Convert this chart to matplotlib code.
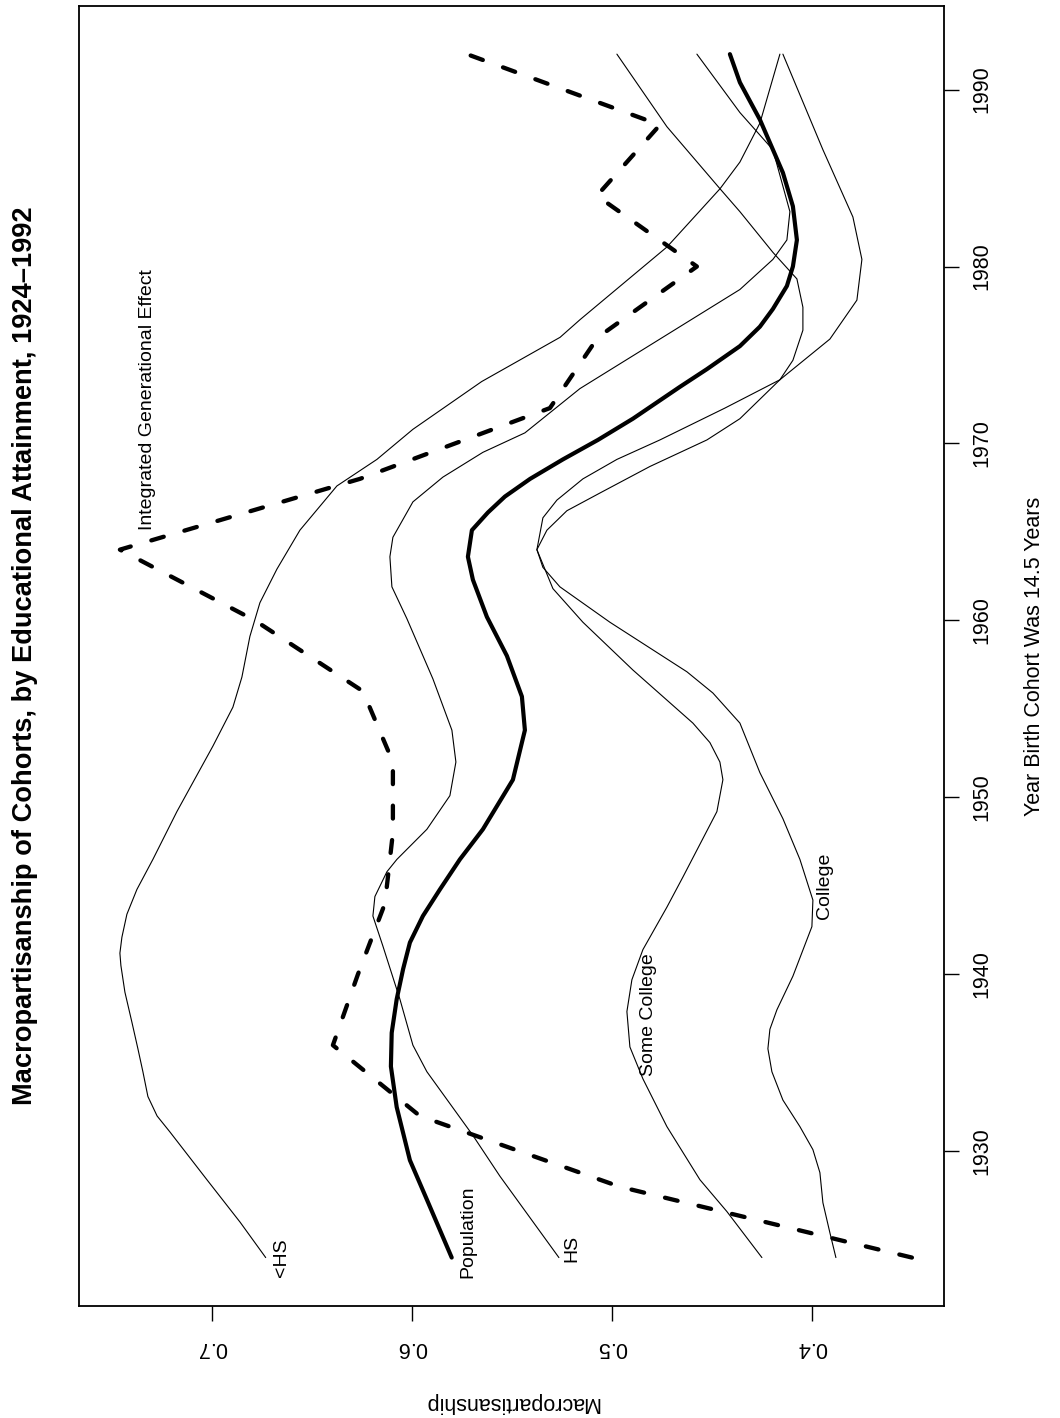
import matplotlib
matplotlib.use("Agg")
import matplotlib.pyplot as plt

plt.rcParams['font.family'] = ['Liberation Sans', 'DejaVu Sans']

# ---- data (year, macropartisanship) ----
lths_years = [1924.0, 1926.0, 1928.4, 1931.1, 1932.0, 1933.1, 1934.5, 1935.8, 1937.3, 1939.0,
              1940.5, 1941.2, 1942.1, 1943.4, 1944.8, 1946.5, 1949.2, 1952.9, 1955.1, 1956.8,
              1959.1, 1961.0, 1962.9, 1965.1, 1967.6, 1969.1, 1970.8, 1973.5, 1976.0, 1977.0,
              1981.1, 1984.4, 1985.9, 1988.1, 1992.0]
lths_vals = [0.6730, 0.6858, 0.7024, 0.7209, 0.7273, 0.7319, 0.7344, 0.7369, 0.7399, 0.7434,
             0.7454, 0.7459, 0.7449, 0.7424, 0.7374, 0.7294, 0.7174, 0.6994, 0.6894, 0.6849,
             0.6809, 0.6759, 0.6674, 0.6559, 0.6374, 0.6174, 0.5994, 0.5650, 0.5258, 0.5158,
             0.4724, 0.4458, 0.4359, 0.4259, 0.4159]

pop_years = [1924.0, 1927.3, 1929.5, 1932.5, 1934.8, 1936.7, 1938.6, 1940.3, 1941.8, 1943.3,
             1944.8, 1946.5, 1948.2, 1951.0, 1953.8, 1955.7, 1958.0, 1960.2, 1962.3, 1963.6,
             1965.1, 1966.1, 1967.0, 1968.0, 1969.1, 1970.2, 1971.4, 1973.2, 1974.2, 1975.5,
             1976.6, 1977.6, 1978.9, 1980.0, 1981.5, 1983.4, 1985.3, 1988.3, 1990.4, 1992.0]
pop_vals = [0.5800, 0.5925, 0.6009, 0.6075, 0.6104, 0.6100, 0.6075, 0.6043, 0.6009, 0.5944,
            0.5859, 0.5759, 0.5644, 0.5494, 0.5434, 0.5449, 0.5524, 0.5624, 0.5694, 0.5719,
            0.5699, 0.5619, 0.5534, 0.5408, 0.5244, 0.5069, 0.4894, 0.4659, 0.4524, 0.4359,
            0.4259, 0.4194, 0.4124, 0.4094, 0.4074, 0.4094, 0.4144, 0.4259, 0.4359, 0.4409]

hs_years = [1924.0, 1928.6, 1930.9, 1934.5, 1936.0, 1938.6, 1941.6, 1943.3, 1944.4, 1945.8,
            1946.5, 1948.2, 1950.1, 1952.0, 1953.8, 1956.7, 1960.1, 1961.9, 1963.6, 1964.7,
            1966.7, 1968.1, 1969.5, 1970.6, 1973.1, 1978.7, 1980.4, 1981.5, 1983.1, 1986.6,
            1988.7, 1992.0]
hs_vals = [0.5264, 0.5559, 0.5694, 0.5924, 0.5994, 0.6059, 0.6144, 0.6194, 0.6184, 0.6124,
           0.6074, 0.5924, 0.5809, 0.5779, 0.5799, 0.5894, 0.6024, 0.6099, 0.6109, 0.6094,
           0.5994, 0.5844, 0.5644, 0.5434, 0.5159, 0.4359, 0.4194, 0.4124, 0.4109, 0.4194,
           0.4359, 0.4574]

somecol_years = [1924.0, 1926.6, 1928.4, 1931.4, 1934.1, 1935.9, 1937.9, 1939.7, 1941.4, 1943.8,
                 1945.5, 1949.2, 1951.0, 1952.0, 1953.1, 1954.2, 1957.2, 1959.9, 1961.8, 1964.0,
                 1965.8, 1966.8, 1968.0, 1969.1, 1970.2, 1972.0, 1973.6, 1975.9, 1978.1, 1980.4,
                 1982.8, 1986.6, 1992.0]
somecol_vals = [0.4249, 0.4424, 0.4559, 0.4724, 0.4844, 0.4909, 0.4924, 0.4899, 0.4844, 0.4724,
                0.4644, 0.4474, 0.4444, 0.4459, 0.4509, 0.4594, 0.4894, 0.5144, 0.5294, 0.5374,
                0.5344, 0.5274, 0.5144, 0.4974, 0.4759, 0.4434, 0.4159, 0.3909, 0.3774, 0.3749,
                0.3794, 0.3944, 0.4144]

col_years = [1924.0, 1925.4, 1927.1, 1928.8, 1930.1, 1931.4, 1932.9, 1934.5, 1935.8, 1936.9,
             1938.0, 1939.9, 1942.7, 1944.2, 1946.5, 1948.8, 1951.4, 1954.2, 1955.9, 1957.1,
             1959.9, 1961.9, 1963.0, 1964.0, 1965.1, 1966.2, 1967.2, 1968.7, 1970.2, 1971.4,
             1973.6, 1974.7, 1976.4, 1977.7, 1979.3, 1980.8, 1983.1, 1984.4, 1987.9, 1992.0]
col_vals = [0.3879, 0.3909, 0.3944, 0.3959, 0.3994, 0.4059, 0.4144, 0.4199, 0.4219, 0.4209,
            0.4174, 0.4094, 0.3999, 0.3994, 0.4059, 0.4144, 0.4259, 0.4359, 0.4494, 0.4624,
            0.5009, 0.5259, 0.5344, 0.5374, 0.5324, 0.5224, 0.5059, 0.4809, 0.4524, 0.4359,
            0.4159, 0.4094, 0.4044, 0.4044, 0.4074, 0.4194, 0.4359, 0.4459, 0.4724, 0.4974]

ige_years = [1924, 1928, 1932, 1936, 1940, 1944, 1948, 1952, 1956,
             1960, 1964, 1968, 1972, 1976, 1980, 1984, 1988, 1992]
ige_vals = [0.3499, 0.4959, 0.5959, 0.6394, 0.6269, 0.6134, 0.6094, 0.6094, 0.6244,
            0.6784, 0.7459, 0.6259, 0.5309, 0.5069, 0.4574, 0.5074, 0.4759, 0.5724]

series_labels = ['<HS', 'Population', 'HS', 'Some College', 'College',
                 'Integrated Generational Effect']
label_years = [1923.98, 1925.48, 1924.52, 1937.74, 1945.0, 1972.5]
label_vals = [0.6649, 0.5717, 0.5200, 0.4817, 0.3934, 0.7319]

year_ticks = [1930, 1940, 1950, 1960, 1970, 1980, 1990]
val_ticks = [0.4, 0.5, 0.6, 0.7]
val_ticklabels = ['0.4', '0.5', '0.6', '0.7']

W, H = 1060, 1418
fig = plt.figure(figsize=(W / 100, H / 100), dpi=100)
ax = fig.add_axes([79 / W, 1 - 1305.7 / H, (944 - 79) / W, (1305.7 - 6) / H])

thin = dict(color='black', lw=0.8, solid_capstyle='round', solid_joinstyle='round')
ax.plot(lths_vals, lths_years, **thin)
ax.plot(hs_vals, hs_years, **thin)
ax.plot(somecol_vals, somecol_years, **thin)
ax.plot(col_vals, col_years, **thin)
ax.plot(pop_vals, pop_years, color='black', lw=3, solid_capstyle='round', solid_joinstyle='round')
ax.plot(ige_vals, ige_years, color='black', lw=3.1, linestyle=(0, (3.0, 5.0)),
        dash_capstyle='round', dash_joinstyle='round')

for lab, yr, v in zip(series_labels, label_years, label_vals):
    ax.text(v, yr, lab, rotation=90, fontsize=14, ha='center', va='center')

ax.set_xlim(0.76635, 0.33385)
ax.set_ylim(1921.28, 1994.72)

ax.set_yticks(year_ticks)
ax.set_yticklabels([str(y) for y in year_ticks], rotation=90, va='center')
ax.yaxis.tick_right()
ax.tick_params(axis='y', direction='out', length=10.5, width=1, labelsize=15.5, pad=9)

ax.set_xticks(val_ticks)
ax.set_xticklabels(val_ticklabels, rotation=180, ha='center')
ax.tick_params(axis='x', direction='out', length=10.5, width=1, labelsize=15.5, pad=12)

for s in ax.spines.values():
    s.set_linewidth(1.3)

fig.text(25 / W, 1 - 656 / H,
         'Macropartisanship of Cohorts, by Educational Attainment, 1924\u20131992',
         rotation=90, fontsize=19.6, fontweight='bold', ha='center', va='center')
fig.text(1035 / W, 1 - 656 / H, 'Year Birth Cohort Was 14.5 Years',
         rotation=90, fontsize=15.5, ha='center', va='center')
fig.text(511.5 / W, 1 - 1403 / H, 'Macropartisanship',
         rotation=180, fontsize=15.5, ha='center', va='center')

fig.savefig('out.png', dpi=100)
